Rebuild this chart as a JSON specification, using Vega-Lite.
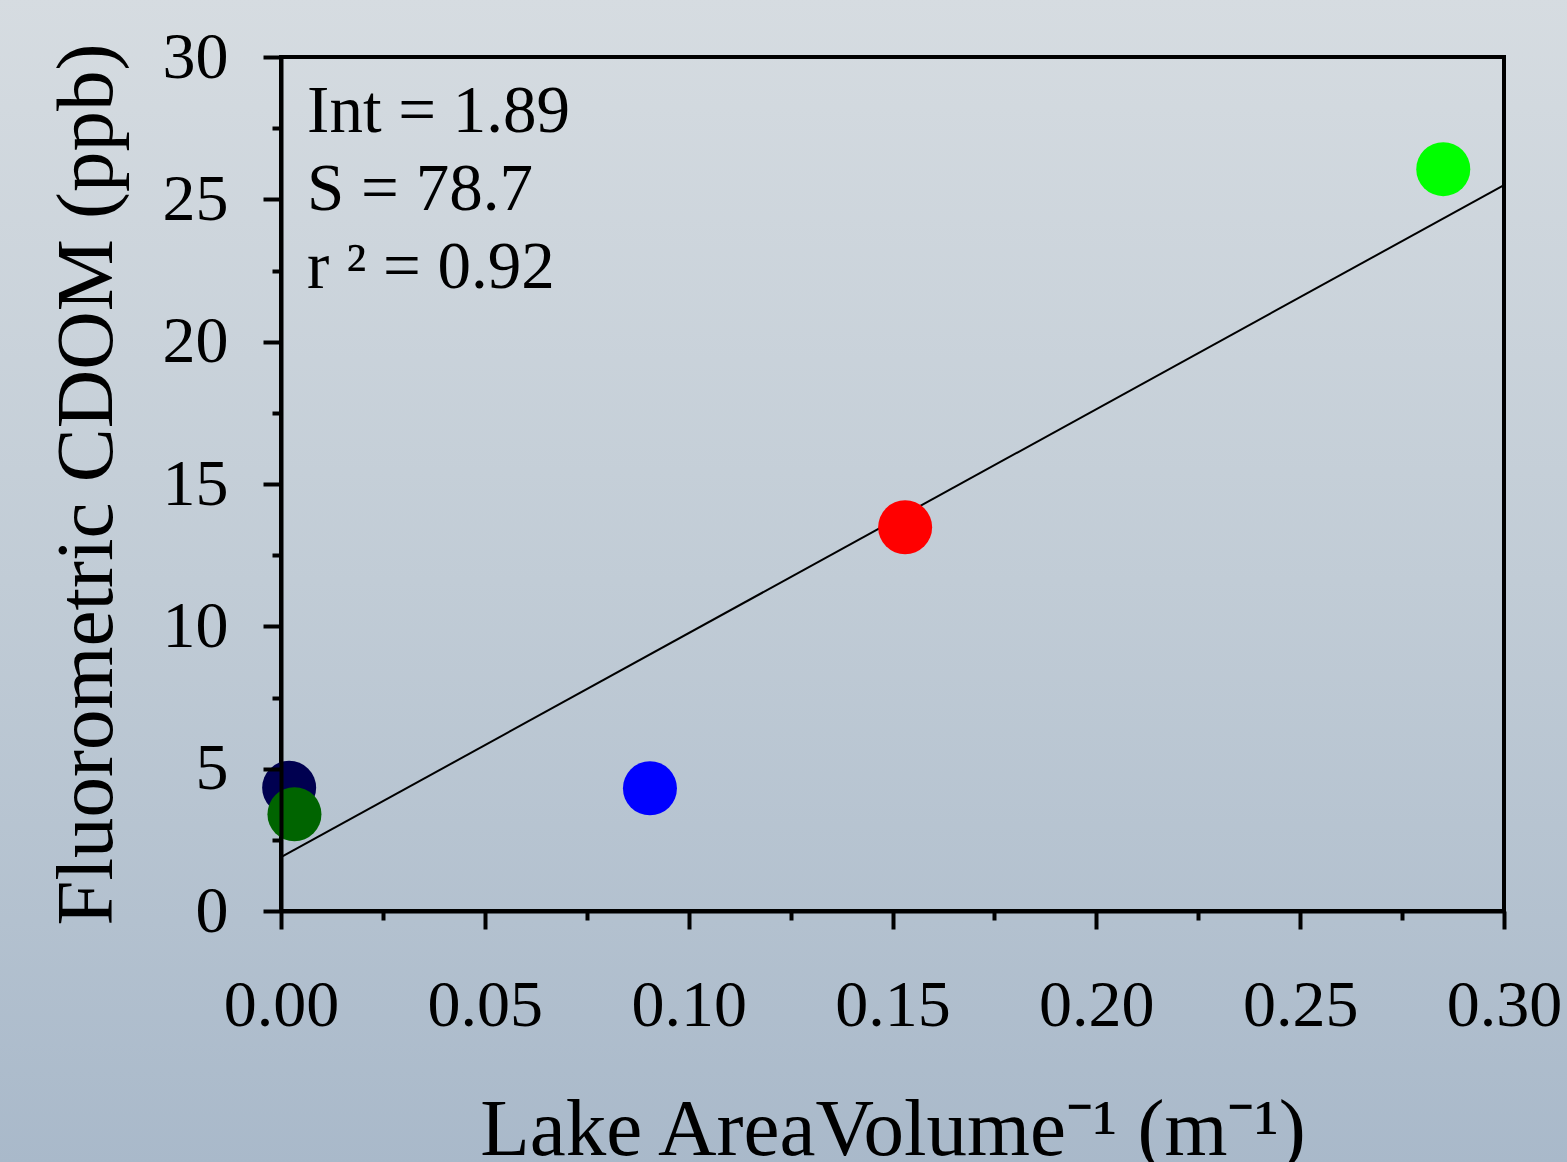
{
  "$schema": "https://vega.github.io/schema/vega-lite/v6.json",
  "width": 1223,
  "height": 854,
  "autosize": {"type": "none"},
  "padding": {"left": 281, "top": 57, "right": 63, "bottom": 251},
  "background": "#c3ced8",
  "config": {
    "view": {"stroke": null, "fill": null},
    "font": "Liberation Serif",
    "axis": {
      "domainColor": "black",
      "domainWidth": 4,
      "tickColor": "black",
      "tickWidth": 4,
      "grid": false,
      "labelFont": "Liberation Serif",
      "labelFontSize": 66,
      "labelColor": "black",
      "titleFont": "Liberation Serif",
      "titleFontSize": 81,
      "titleFontWeight": "normal",
      "titleColor": "black",
      "labelFlush": false,
      "labelOverlap": false
    }
  },
  "layer": [
    {
      "data": {"values": [{}]},
      "mark": {
        "type": "rect",
        "clip": false,
        "fill": {
          "gradient": "linear",
          "x1": 0, "y1": 0, "x2": 0, "y2": 1,
          "stops": [
            {"offset": 0, "color": "#d6dce1"},
            {"offset": 0.5, "color": "#c1ccd6"},
            {"offset": 1, "color": "#a9b9ca"}
          ]
        }
      },
      "encoding": {
        "x": {"datum": -0.07, "type": "quantitative", "scale": {"domain": [0, 0.3], "nice": false, "zero": false},
          "axis": {
            "zindex": 5,
            "title": "Lake AreaVolume⁻¹ (m⁻¹)",
            "values": [0, 0.025, 0.05, 0.075, 0.1, 0.125, 0.15, 0.175, 0.2, 0.225, 0.25, 0.275, 0.3],
            "labelExpr": "round(datum.value*200) % 10 == 0 ? format(datum.value, '.2f') : ''",
            "tickSize": {"condition": {"test": "round(datum.value*200) % 10 != 0", "value": 9}, "value": 18},
            "labelPadding": 44,
            "titlePadding": 52
          }
        },
        "x2": {"datum": 0.32},
        "y": {"datum": -8.9, "type": "quantitative", "scale": {"domain": [0, 30], "nice": false, "zero": false},
          "axis": {
            "zindex": 5,
            "title": "Fluorometric CDOM (ppb)",
            "values": [0, 2.5, 5, 7.5, 10, 12.5, 15, 17.5, 20, 22.5, 25, 27.5, 30],
            "labelExpr": "round(datum.value*2) % 10 == 0 ? format(datum.value, 'd') : ''",
            "tickSize": {"condition": {"test": "round(datum.value*2) % 10 != 0", "value": 9}, "value": 18},
            "labelPadding": 35,
            "titlePadding": 34
          }
        },
        "y2": {"datum": 32.1}
      }
    },
    {
      "data": {"values": [{}]},
      "mark": {"type": "rect", "fill": null, "stroke": "black", "strokeWidth": 4, "clip": false},
      "encoding": {
        "x": {"datum": 0, "type": "quantitative"},
        "x2": {"datum": 0.3},
        "y": {"datum": 0, "type": "quantitative"},
        "y2": {"datum": 30}
      }
    },
    {
      "data": {"values": [{"x": 0, "y": 1.89}, {"x": 0.3, "y": 25.5}]},
      "mark": {"type": "line", "color": "black", "strokeWidth": 2},
      "encoding": {
        "x": {"field": "x", "type": "quantitative"},
        "y": {"field": "y", "type": "quantitative"}
      }
    },
    {
      "data": {"values": [
        {"site": "Lake 1", "x": 0.0020, "y": 4.33},
        {"site": "Lake 2", "x": 0.0033, "y": 3.40},
        {"site": "Lake 3", "x": 0.0905, "y": 4.31},
        {"site": "Lake 4", "x": 0.1531, "y": 13.48},
        {"site": "Lake 5", "x": 0.2851, "y": 26.06}
      ]},
      "mark": {"type": "circle", "size": 2916, "opacity": 1, "clip": false},
      "encoding": {
        "x": {"field": "x", "type": "quantitative"},
        "y": {"field": "y", "type": "quantitative"},
        "color": {"field": "site", "type": "nominal", "legend": null,
          "scale": {"domain": ["Lake 1", "Lake 2", "Lake 3", "Lake 4", "Lake 5"],
                    "range": ["#000050", "#006400", "#0000ff", "#ff0000", "#00ff00"]}},
        "order": {"field": "site"}
      }
    },
    {
      "data": {"values": [{}]},
      "mark": {"type": "text", "align": "left", "baseline": "alphabetic", "fontSize": 67, "lineHeight": 78,
        "font": "Liberation Serif", "color": "black",
        "text": ["Int = 1.89", "S = 78.7", "r ² = 0.92"]},
      "encoding": {
        "x": {"datum": 0.0064, "type": "quantitative"},
        "y": {"datum": 27.36, "type": "quantitative"}
      }
    }
  ]
}
